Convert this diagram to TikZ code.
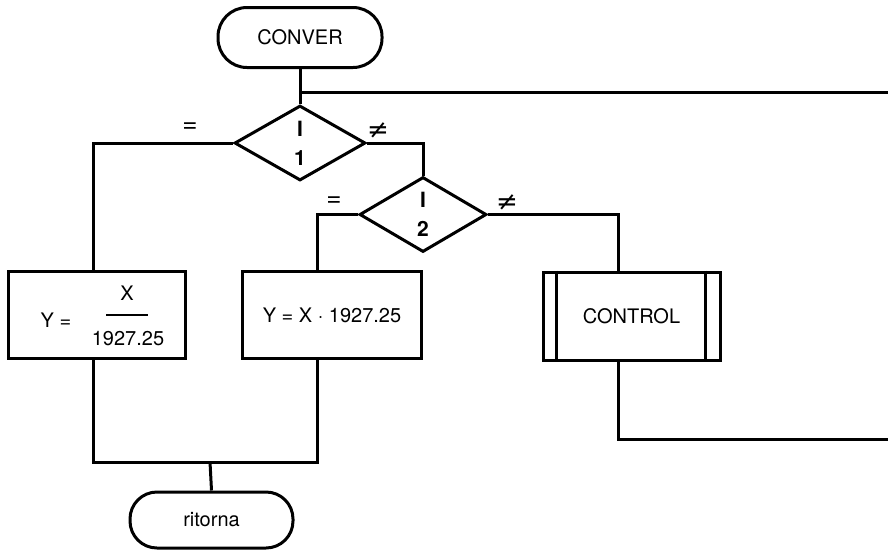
\documentclass[tikz,border=0pt]{standalone}
\usepackage{fontspec}
\setmainfont{TeX Gyre Heros}
\newfontfamily\symf{DejaVu Sans}
\usetikzlibrary{shapes.geometric}
\begin{document}
\begin{tikzpicture}[x=1pt,y=-1pt,
  every node/.style={font=\fontsize{20}{24}\selectfont},
  flow/.style={line width=3pt},
  term/.style={draw,line width=3pt,rounded corners=29pt,minimum width=164pt,minimum height=60pt,inner sep=0},
  dec/.style={draw,diamond,line width=3pt,inner sep=0,align=center,font=\fontsize{21}{24}\selectfont\bfseries},
  proc/.style={draw,line width=3pt,minimum width=177pt,minimum height=87pt,inner sep=0},
  lbl/.style={inner sep=0},
  cond/.style={inner sep=0,font=\fontsize{26}{26}\selectfont}
]
\useasboundingbox (0,0) rectangle (888,550);
% nodes
\node[term] (conv) at (300,37.5) {CONVER};
\node[dec,minimum width=131pt,minimum height=75pt] (d1) at (300,143) {I\\[5pt]1};
\node[dec,minimum width=127pt,minimum height=75pt] (d2) at (423,214.5) {I\\[5pt]2};
\node[proc] (b1) at (96.5,315) {};
\node[proc,minimum width=179pt] (b2) at (332,315) {Y = X \textperiodcentered\ 1927.25};
\node[proc,minimum height=88pt] (ctrl) at (631.5,316) {CONTROL};
\node[term,minimum height=56pt,rounded corners=27pt,minimum width=163pt] (ret) at (211.5,520) {ritorna};
% box 1 contents
\node[lbl] (ylab) at (56,320) {Y =};
\node[lbl] (xnum) at (127,293) {X};
\node[lbl] (xden) at (128,339) {1927.25};
\draw[line width=1.4pt] (106,315) -- (148,315);
% CONTROL inner bars
\draw[line width=2.6pt] ([xshift=15pt]ctrl.north west) -- ([xshift=15pt]ctrl.south west);
\draw[line width=2.6pt] ([xshift=-16pt]ctrl.north east) -- ([xshift=-16pt]ctrl.south east);
% branch labels
\node[cond] (eq1) at (190,128) {=};
\node[cond] (ne1) at (378,131) {\symf ≠};
\node[cond] (eq2) at (334,202) {=};
\node[cond] (ne2) at (507,203) {\symf ≠};
% coordinates
\coordinate (r1) at (888,92);
\coordinate (r2) at (888,439);
\coordinate (j) at (210,462);
\coordinate (b1n) at ([xshift=-3.5pt]b1.north);
\coordinate (b1s) at ([xshift=-3.5pt]b1.south);
\coordinate (b2n) at ([xshift=-15pt]b2.north);
\coordinate (b2s) at ([xshift=-15pt]b2.south);
\coordinate (cn) at ([xshift=-13.5pt]ctrl.north);
\coordinate (cs) at ([xshift=-13.5pt]ctrl.south);
% connectors
\draw[flow] (conv.south) -- (d1.north);
\draw[flow] (conv.south |- r1) -- (r1);
\draw[flow] (d1.west) -| (b1n);
\draw[flow] (d1.east) -| (d2.north);
\draw[flow] (d2.west) -| (b2n);
\draw[flow] (d2.east) -| (cn);
\draw[flow] (b1s) |- (b2s |- j) -- (b2s);
\draw[flow] (j) -- (ret.north);
\draw[flow] (cs) |- (r2);
\end{tikzpicture}
\end{document}
